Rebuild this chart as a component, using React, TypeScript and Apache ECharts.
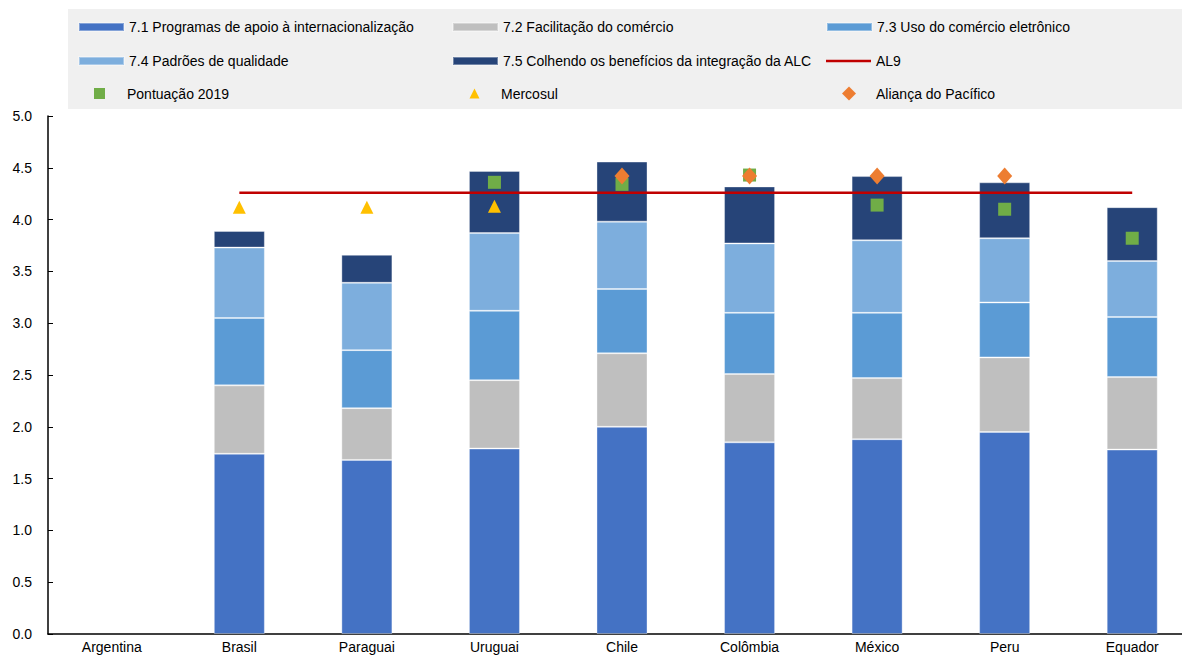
import React, { useEffect, useRef } from "react";
import * as echarts from "echarts";

const categories = ["Argentina", "Brasil", "Paraguai", "Uruguai", "Chile", "Colômbia", "México", "Peru", "Equador"];
const s71 = [null, 1.74, 1.68, 1.79, 2.0, 1.85, 1.88, 1.95, 1.78];
const s72 = [null, 0.66, 0.5, 0.66, 0.71, 0.66, 0.59, 0.72, 0.7];
const s73 = [null, 0.65, 0.56, 0.67, 0.62, 0.59, 0.63, 0.53, 0.58];
const s74 = [null, 0.68, 0.65, 0.75, 0.65, 0.67, 0.7, 0.62, 0.54];
const s75 = [null, 0.16, 0.27, 0.6, 0.58, 0.55, 0.62, 0.54, 0.52];
const al9 = [null, 4.26, 4.26, 4.26, 4.26, 4.26, 4.26, 4.26, 4.26];
const pontuacao2019 = [null, null, null, 4.36, 4.34, 4.43, 4.14, 4.1, 3.82];
const mercosul = [null, 4.12, 4.12, 4.13, null, null, null, null, null];
const alianca = [null, null, null, null, 4.42, 4.42, 4.42, 4.42, null];
const yTicks = [0, 5, 0.5];

const names = [
  "7.1 Programas de apoio à internacionalização",
  "7.2 Facilitação do comércio",
  "7.3 Uso do comércio eletrônico",
  "7.4 Padrões de qualidade",
  "7.5 Colhendo os benefícios da integração da ALC",
  "AL9",
  "Pontuação 2019",
  "Mercosul",
  "Aliança do Pacífico",
];
const colors = ["#4472C4", "#BFBFBF", "#5B9BD5", "#7DAEDD", "#264478", "#C00000", "#70AD47", "#FFC000", "#ED7D31"];

const FONT = "'Liberation Sans', Arial, sans-serif";

export default function App() {
  const ref = useRef<HTMLDivElement>(null);
  useEffect(() => {
    if (!ref.current) return;
    const chart = echarts.init(ref.current, null, { renderer: "svg" });
    const barData = [s71, s72, s73, s74, s75];
    const barSeries = barData.map((d, i) => ({
      name: names[i],
      type: "bar",
      stack: "total",
      data: d,
      barWidth: "40%",
      itemStyle: { color: colors[i], borderColor: "rgba(255,255,255,0.35)", borderWidth: 1 },
      z: 2,
    }));
    const textStyle = { fontFamily: FONT, fontSize: 14, color: "#000", lineHeight: 16 };
    const barLegendPos = [
      [78, 19],
      [452, 19],
      [826, 19],
      [78, 53],
      [452, 53],
      [826, 53],
    ];
    const legends: any[] = barLegendPos.map((p, i) => ({
      left: p[0],
      top: p[1],
      padding: 0,
      itemWidth: 45,
      itemHeight: i < 5 ? 8 : 2.5,
      selectedMode: false,
      textStyle,
      data: [{ name: names[i], icon: "rect" }],
    }));
    legends.push({
      left: 94, top: 85.5, padding: 0, itemWidth: 11, itemHeight: 11, selectedMode: false,
      textStyle: { ...textStyle, padding: [0, 0, 0, 17] },
      data: [{ name: names[6], icon: "rect" }],
    });
    legends.push({
      left: 469.5, top: 85.5, padding: 0, itemWidth: 10, itemHeight: 10, selectedMode: false,
      textStyle: { ...textStyle, padding: [0, 0, 0, 16.5] },
      data: [{ name: names[7], icon: "triangle" }],
    });
    legends.push({
      left: 842, top: 85.5, padding: 0, itemWidth: 14, itemHeight: 14, selectedMode: false,
      textStyle: { ...textStyle, padding: [0, 0, 0, 15] },
      data: [{ name: names[8], icon: "diamond" }],
    });

    chart.setOption({
      animation: false,
      textStyle: { fontFamily: FONT },
      graphic: [
        {
          type: "rect",
          left: 68,
          top: 9,
          z: -10,
          shape: { width: 1128, height: 100 },
          style: { fill: "#F0F0F0" },
          silent: true,
        },
      ],
      legend: legends,
      grid: { left: 48, right: 0, top: 116, bottom: 23, containLabel: false },
      xAxis: {
        type: "category",
        data: categories,
        axisLine: { lineStyle: { color: "#000", width: 1.5 } },
        axisTick: { inside: true, length: 4, lineStyle: { color: "#000" } },
        axisLabel: { color: "#000", fontSize: 14, fontFamily: FONT, margin: 6, interval: 0 },
      },
      yAxis: {
        type: "value",
        min: yTicks[0],
        max: yTicks[1],
        interval: yTicks[2],
        axisLine: { show: true, lineStyle: { color: "#000", width: 1.5 } },
        axisTick: { show: true, inside: true, length: 5, lineStyle: { color: "#000" } },
        splitLine: { show: false },
        axisLabel: {
          color: "#000",
          fontSize: 14,
          fontFamily: FONT,
          margin: 16,
          formatter: (v: number) => v.toFixed(1),
        },
      },
      series: [
        ...barSeries,
        {
          name: names[5],
          type: "line",
          data: al9,
          symbol: "none",
          showSymbol: false,
          lineStyle: { color: colors[5], width: 2.5 },
          itemStyle: { color: colors[5] },
          z: 3,
        },
        {
          name: names[6],
          type: "scatter",
          data: pontuacao2019,
          symbol: "rect",
          symbolSize: 13,
          itemStyle: { color: colors[6], opacity: 1 },
          z: 4,
        },
        {
          name: names[7],
          type: "scatter",
          data: mercosul,
          symbol: "triangle",
          symbolSize: 13,
          itemStyle: { color: colors[7], opacity: 1 },
          z: 5,
        },
        {
          name: names[8],
          type: "scatter",
          data: alianca,
          symbol: "diamond",
          symbolSize: [15, 17],
          itemStyle: { color: colors[8], opacity: 1 },
          z: 6,
        },
      ],
    });
    return () => chart.dispose();
  }, []);
  return (
    <div style={{ position: "absolute", left: 0, top: 0, width: 1182, height: 657, overflow: "hidden" }}>
      <div ref={ref} style={{ width: 1196, height: 657 }} />
    </div>
  );
}
